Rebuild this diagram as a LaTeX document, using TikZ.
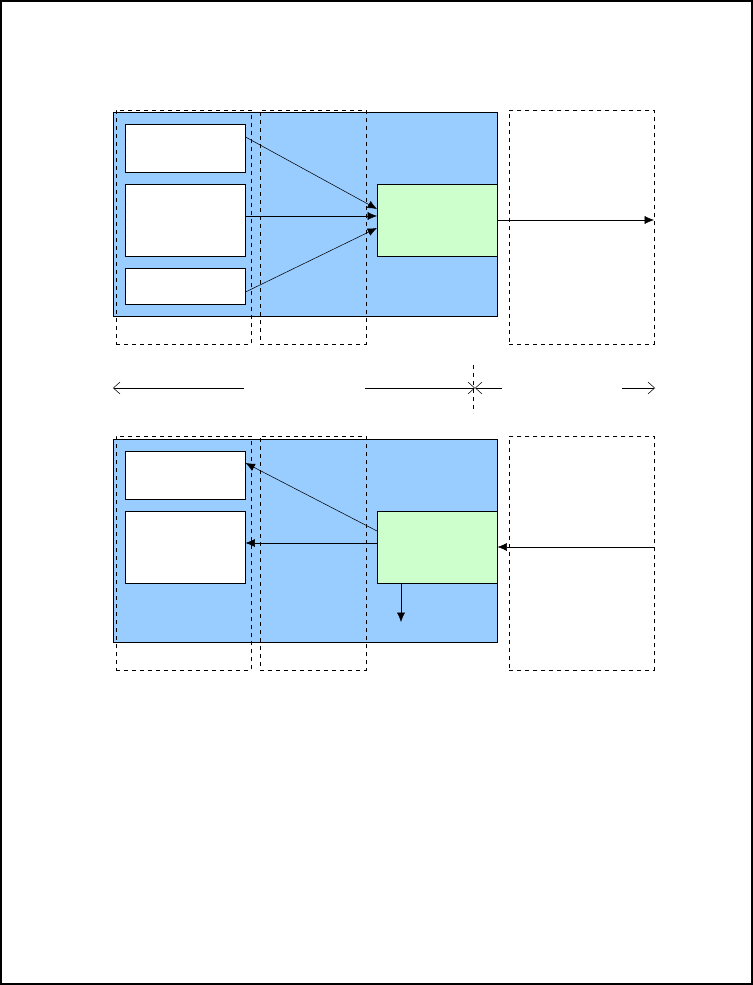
\documentclass[tikz,border=0pt]{standalone}
\usetikzlibrary{arrows.meta}
\tikzset{
  panel/.style={fill={rgb,255:red,153;green,204;blue,255}, draw=black},
  inbox/.style={fill=white, draw=black},
  core/.style={fill={rgb,255:red,204;green,255;blue,204}, draw=black},
  zone/.style={draw=black, dashed},
  flow/.style={-{Latex[length=7pt,width=6pt]}},
  span/.style={-{Straight Barb[length=5pt,width=9pt]}, thin}
}
% box from corner (x1,y1) to (x2,y2), in pixels
\newcommand{\pbox}[6]{\node[#2, inner sep=0pt, anchor=north west,
  minimum width={(#5-#3)*0.75pt}, minimum height={(#6-#4)*0.75pt}] (#1) at (#3,#4) {};}
\begin{document}
\begin{tikzpicture}[x=0.75pt, y=-0.75pt]
  \useasboundingbox (0,0) rectangle (753,985);
  \draw[line width=1.2pt] (1,1) rectangle (752,984);
  % upper picture
  \pbox{topPanel}{panel}{113}{112}{497}{316}
  \pbox{topZoneA}{zone}{116}{110}{251}{344}
  \pbox{topZoneB}{zone}{260}{110}{366}{344}
  \pbox{topZoneC}{zone}{509}{110}{654}{344}
  \pbox{inA}{inbox}{125}{124}{245}{172}
  \pbox{inB}{inbox}{125}{184}{245}{256}
  \pbox{inC}{inbox}{125}{268}{245}{304}
  \pbox{topCore}{core}{377}{184}{497}{256}
  \coordinate (topOut) at (654,220);
  \draw[flow] (inA.east |- 0,137) -- (topCore.west |- 0,209);
  \draw[flow] (inB.east |- 0,216) -- (topCore.west |- 0,216);
  \draw[flow] (inC.east |- 0,292) -- (topCore.west |- 0,228);
  \draw[flow] (topCore.east |- topOut) -- (topOut);
  % middle line
  \coordinate (midL) at (113,388); \coordinate (midLs) at (244,388);
  \coordinate (midA) at (365,388); \coordinate (midX) at (475,388);
  \coordinate (midB) at (502,388);
  \coordinate (midRs) at (622,388); \coordinate (midR) at (655,388);
  \draw[span] (midLs) -- (midL);
  \draw[span] (midA) -- (midX);
  \draw[span] (midB) -- (midX);
  \draw[span] (midRs) -- (midR);
  \draw[dashed] (473,365) -- (473,413);
  % lower picture
  \pbox{botPanel}{panel}{113}{439}{497}{642}
  \pbox{botZoneA}{zone}{116}{436}{251}{670}
  \pbox{botZoneB}{zone}{260}{436}{366}{670}
  \pbox{botZoneC}{zone}{509}{436}{654}{670}
  \pbox{outA}{inbox}{125}{451}{245}{499}
  \pbox{outB}{inbox}{125}{511}{245}{583}
  \pbox{botCore}{core}{377}{511}{497}{583}
  \coordinate (botIn) at (654,547);
  \coordinate (botDown) at (401,622);
  \draw[flow] (botCore.west |- 0,531) -- (outA.east |- 0,463);
  \draw[flow] (botCore.west |- 0,543) -- (outB.east |- 0,543);
  \draw[flow] (botIn) -- (botCore.east |- botIn);
  \draw[flow] (botCore.south -| botDown) -- (botDown);
\end{tikzpicture}
\end{document}
